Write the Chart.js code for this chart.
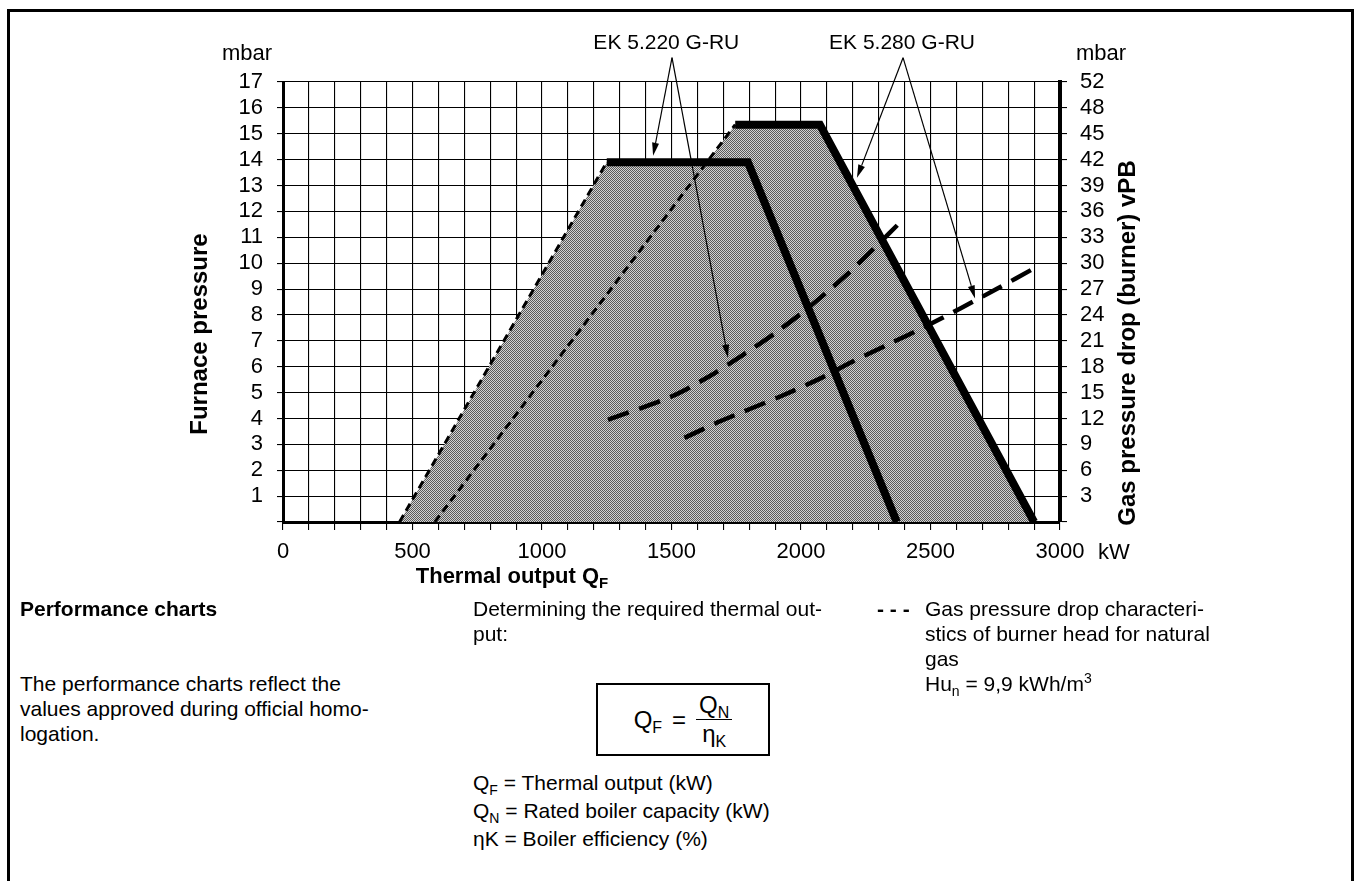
<!DOCTYPE html>
<html>
<head>
<meta charset="utf-8">
<script src="https://cdn.jsdelivr.net/npm/chart.js@4/dist/chart.umd.min.js"></script>
<style>
  body { margin: 0; background: #fff; overflow: hidden; font-family: 'Liberation Sans', Arial, sans-serif; color: #000; }
  #frame { position: absolute; left: 7px; top: 9px; width: 1347px; height: 900px; border: 3px solid #000; box-sizing: border-box; }
  #c { position: absolute; left: 0; top: 0; }
  .t { position: absolute; font-size: 21px; line-height: 25px; white-space: nowrap; }
  .t sub { font-size: 14px; vertical-align: -5px; line-height: 0; }
  .t sup { font-size: 14px; vertical-align: 8px; line-height: 0; }
  #box { left: 596px; top: 683px; width: 174px; height: 73px; border: 2px solid #000; box-sizing: border-box;
         display: flex; align-items: center; justify-content: center; font-size: 24px; }
  #box sub { font-size: 16px; }
  .frac { display: inline-flex; flex-direction: column; align-items: center; line-height: 28px; }
  .frac span:first-child { border-bottom: 1.5px solid #000; padding: 0 3px; }
</style>
</head>
<body>
<div id="frame"></div>
<canvas id="c" width="1356" height="600"></canvas>

<div class="t" style="left:20px;top:596px;font-weight:bold">Performance charts</div>
<div class="t" style="left:20px;top:671px">The performance charts reflect the<br>values approved during official homo-<br>logation.</div>

<div class="t" style="left:473px;top:596px">Determining the required thermal out-<br>put:</div>
<div class="t" id="box"><span>Q<sub>F</sub></span><span style="margin:0 10px">=</span><span class="frac"><span>Q<sub>N</sub></span><span>η<sub>K</sub></span></span></div>
<div class="t" style="left:473px;top:769px;line-height:28px">Q<sub>F</sub> = Thermal output (kW)<br>Q<sub>N</sub> = Rated boiler capacity (kW)<br>ηK = Boiler efficiency (%)</div>

<div class="t" style="left:877px;top:596px;font-weight:bold">- - -</div>
<div class="t" style="left:925px;top:596px">Gas pressure drop characteri-<br>stics of burner head for natural<br>gas<br>Hu<sub>n</sub> = 9,9 kWh/m<sup>3</sup></div>

<script>
// performance fields (kW, mbar furnace pressure)
const ek220Kw = [450, 1250, 1795, 2370];
const ek220Mbar = [0, 13.9, 13.9, 0];
const ek280Kw = [586, 1746, 2073, 2900];
const ek280Mbar = [0, 15.35, 15.35, 0];

// gas pressure drop characteristics (read on the furnace pressure grid)
const gasAKw = [1255, 1500, 1650, 1775, 1900, 2025, 2165, 2285, 2395];
const gasAMbar = [3.95, 4.85, 5.65, 6.45, 7.3, 8.25, 9.45, 10.6, 11.7];
const gasBKw = [1550, 1690, 1920, 2075, 2190, 2345, 2470, 2615, 2755, 2900];
const gasBMbar = [3.25, 3.9, 4.85, 5.55, 6.15, 6.9, 7.5, 8.25, 9.0, 9.8];

// right axis labels for furnace pressure 1..17
const rightLabels = ['3', '6', '9', '12', '15', '18', '21', '24', '27', '30', '33', '36', '39', '42', '45', '48', '52'];

const FONT = "'Liberation Sans', Arial, sans-serif";
Chart.defaults.font.family = FONT;
Chart.defaults.color = '#000';

const canvas = document.getElementById('c');

// dithered grey like the printed screen
function makePattern() {
    const pc = document.createElement('canvas');
    pc.width = 4; pc.height = 4;
    const g = pc.getContext('2d');
    g.fillStyle = '#d2d2d2';
    g.fillRect(0, 0, 4, 4);
    g.fillStyle = '#5a5a5a';
    for (let i = 0; i < 4; i++) {
        for (let j = 0; j < 4; j++) {
            if ((i + j) % 2 === 0) g.fillRect(i, j, 1, 1);
        }
    }
    return canvas.getContext('2d').createPattern(pc, 'repeat');
}
const grey = makePattern();

function pts(xs, ys) {
    return xs.map((x, i) => ({ x: x, y: ys[i] }));
}

const arrows = [
    { from: [1502, 17.94], to: [1429, 14.15] },
    { from: [1502, 17.94], to: [1718, 6.35] },
    { from: [2394, 17.94], to: [2216, 13.3] },
    { from: [2394, 17.94], to: [2672, 8.64] }
];

const annot = {
    id: 'annot',
    afterDraw(chart) {
        const { ctx, scales } = chart;
        const x = scales.x, y = scales.y;
        ctx.save();
        ctx.fillStyle = '#000';
        ctx.strokeStyle = '#000';

        // arrows
        ctx.lineWidth = 1.2;
        arrows.forEach(a => {
            const x0 = x.getPixelForValue(a.from[0]), y0 = y.getPixelForValue(a.from[1]);
            const x1 = x.getPixelForValue(a.to[0]), y1 = y.getPixelForValue(a.to[1]);
            const ang = Math.atan2(y1 - y0, x1 - x0);
            const L = 13, W = 3.5;
            ctx.beginPath();
            ctx.moveTo(x0, y0);
            ctx.lineTo(x1 - Math.cos(ang) * L, y1 - Math.sin(ang) * L);
            ctx.stroke();
            ctx.beginPath();
            ctx.moveTo(x1, y1);
            ctx.lineTo(x1 - Math.cos(ang) * L - Math.sin(ang) * W, y1 - Math.sin(ang) * L + Math.cos(ang) * W);
            ctx.lineTo(x1 - Math.cos(ang) * L + Math.sin(ang) * W, y1 - Math.sin(ang) * L - Math.cos(ang) * W);
            ctx.closePath();
            ctx.fill();
        });

        ctx.textAlign = 'center';
        ctx.textBaseline = 'middle';
        ctx.font = '21px ' + FONT;
        ctx.fillText('EK 5.220 G-RU', x.getPixelForValue(1480), y.getPixelForValue(18.48));
        ctx.fillText('EK 5.280 G-RU', x.getPixelForValue(2390), y.getPixelForValue(18.48));

        ctx.font = '22px ' + FONT;
        ctx.fillText('mbar', 247, 54);
        ctx.fillText('mbar', 1101, 54);
        ctx.fillText('kW', 1114, 553);

        // x title with subscript
        ctx.font = 'bold 22px ' + FONT;
        const main = 'Thermal output Q';
        const w1 = ctx.measureText(main).width;
        ctx.font = 'bold 15px ' + FONT;
        const w2 = ctx.measureText('F').width;
        const left = 512 - (w1 + w2) / 2;
        ctx.textAlign = 'left';
        ctx.font = 'bold 22px ' + FONT;
        ctx.fillText(main, left, 577);
        ctx.font = 'bold 15px ' + FONT;
        ctx.fillText('F', left + w1, 584);

        // rotated y titles
        ctx.textAlign = 'center';
        ctx.font = 'bold 24px ' + FONT;
        ctx.save();
        ctx.translate(200, 334);
        ctx.rotate(-Math.PI / 2);
        ctx.fillText('Furnace pressure', 0, 0);
        ctx.restore();
        ctx.save();
        ctx.translate(1128, 343);
        ctx.rotate(-Math.PI / 2);
        ctx.fillText('Gas pressure drop (burner) vPB', 0, 0);
        ctx.restore();

        ctx.restore();
    }
};

new Chart(canvas.getContext('2d'), {
    type: 'line',
    data: {
        datasets: [
            { data: pts(ek280Kw, ek280Mbar), fill: 'origin', backgroundColor: grey, borderWidth: 0, pointRadius: 0, order: 10 },
            { data: pts(ek220Kw, ek220Mbar), fill: 'origin', backgroundColor: grey, borderWidth: 0, pointRadius: 0, order: 10 },
            { data: pts(ek220Kw, ek220Mbar).slice(1), borderColor: '#000', borderWidth: 8, pointRadius: 0, fill: false, borderJoinStyle: 'miter', order: 1 },
            { data: pts(ek280Kw, ek280Mbar).slice(1), borderColor: '#000', borderWidth: 8, pointRadius: 0, fill: false, borderJoinStyle: 'miter', order: 1 },
            { data: pts(ek220Kw, ek220Mbar).slice(0, 2), borderColor: '#000', borderWidth: 3, borderDash: [8, 5], pointRadius: 0, fill: false, order: 2 },
            { data: pts(ek280Kw, ek280Mbar).slice(0, 2), borderColor: '#000', borderWidth: 3, borderDash: [8, 5], pointRadius: 0, fill: false, order: 2 },
            { data: pts(gasAKw, gasAMbar), borderColor: '#000', borderWidth: 4.5, borderDash: [22, 11], pointRadius: 0, fill: false, tension: 0.3, order: 2 },
            { data: pts(gasBKw, gasBMbar), borderColor: '#000', borderWidth: 4.5, borderDash: [22, 11], pointRadius: 0, fill: false, tension: 0.3, order: 2 }
        ]
    },
    options: {
        responsive: false,
        animation: false,
        devicePixelRatio: 1,
        layout: { padding: { top: 82, left: 0, right: 0, bottom: 0 } },
        plugins: { legend: { display: false }, tooltip: { enabled: false } },
        scales: {
            x: {
                type: 'linear', position: 'bottom', min: 0, max: 3000, z: 1,
                ticks: { stepSize: 100, autoSkip: false, maxRotation: 0, padding: 9, font: { size: 22 },
                    callback: v => (v % 500 === 0 ? String(v) : '') },
                grid: { color: '#000', lineWidth: 1.1, tickLength: 8 },
                border: { color: '#000', width: 3 },
                afterFit: s => { s.height = 78; }
            },
            y: {
                position: 'left', min: 0, max: 17, z: 1,
                ticks: { stepSize: 1, autoSkip: false, padding: 14, font: { size: 22 }, callback: v => (v === 0 ? '' : String(v)) },
                grid: { color: '#000', lineWidth: 1.1, tickLength: 6 },
                border: { color: '#000', width: 3 },
                afterFit: s => { s.width = 283; }
            },
            y2: {
                position: 'right', min: 0, max: 17, z: 1,
                ticks: { stepSize: 1, autoSkip: false, padding: 13, font: { size: 22 }, callback: v => (v === 0 ? '' : rightLabels[v - 1]) },
                grid: { drawOnChartArea: false, color: '#000', lineWidth: 1.1, tickLength: 7 },
                border: { color: '#000', width: 4 },
                afterFit: s => { s.width = 296; }
            }
        }
    },
    plugins: [annot]
});
</script>
</body>
</html>
